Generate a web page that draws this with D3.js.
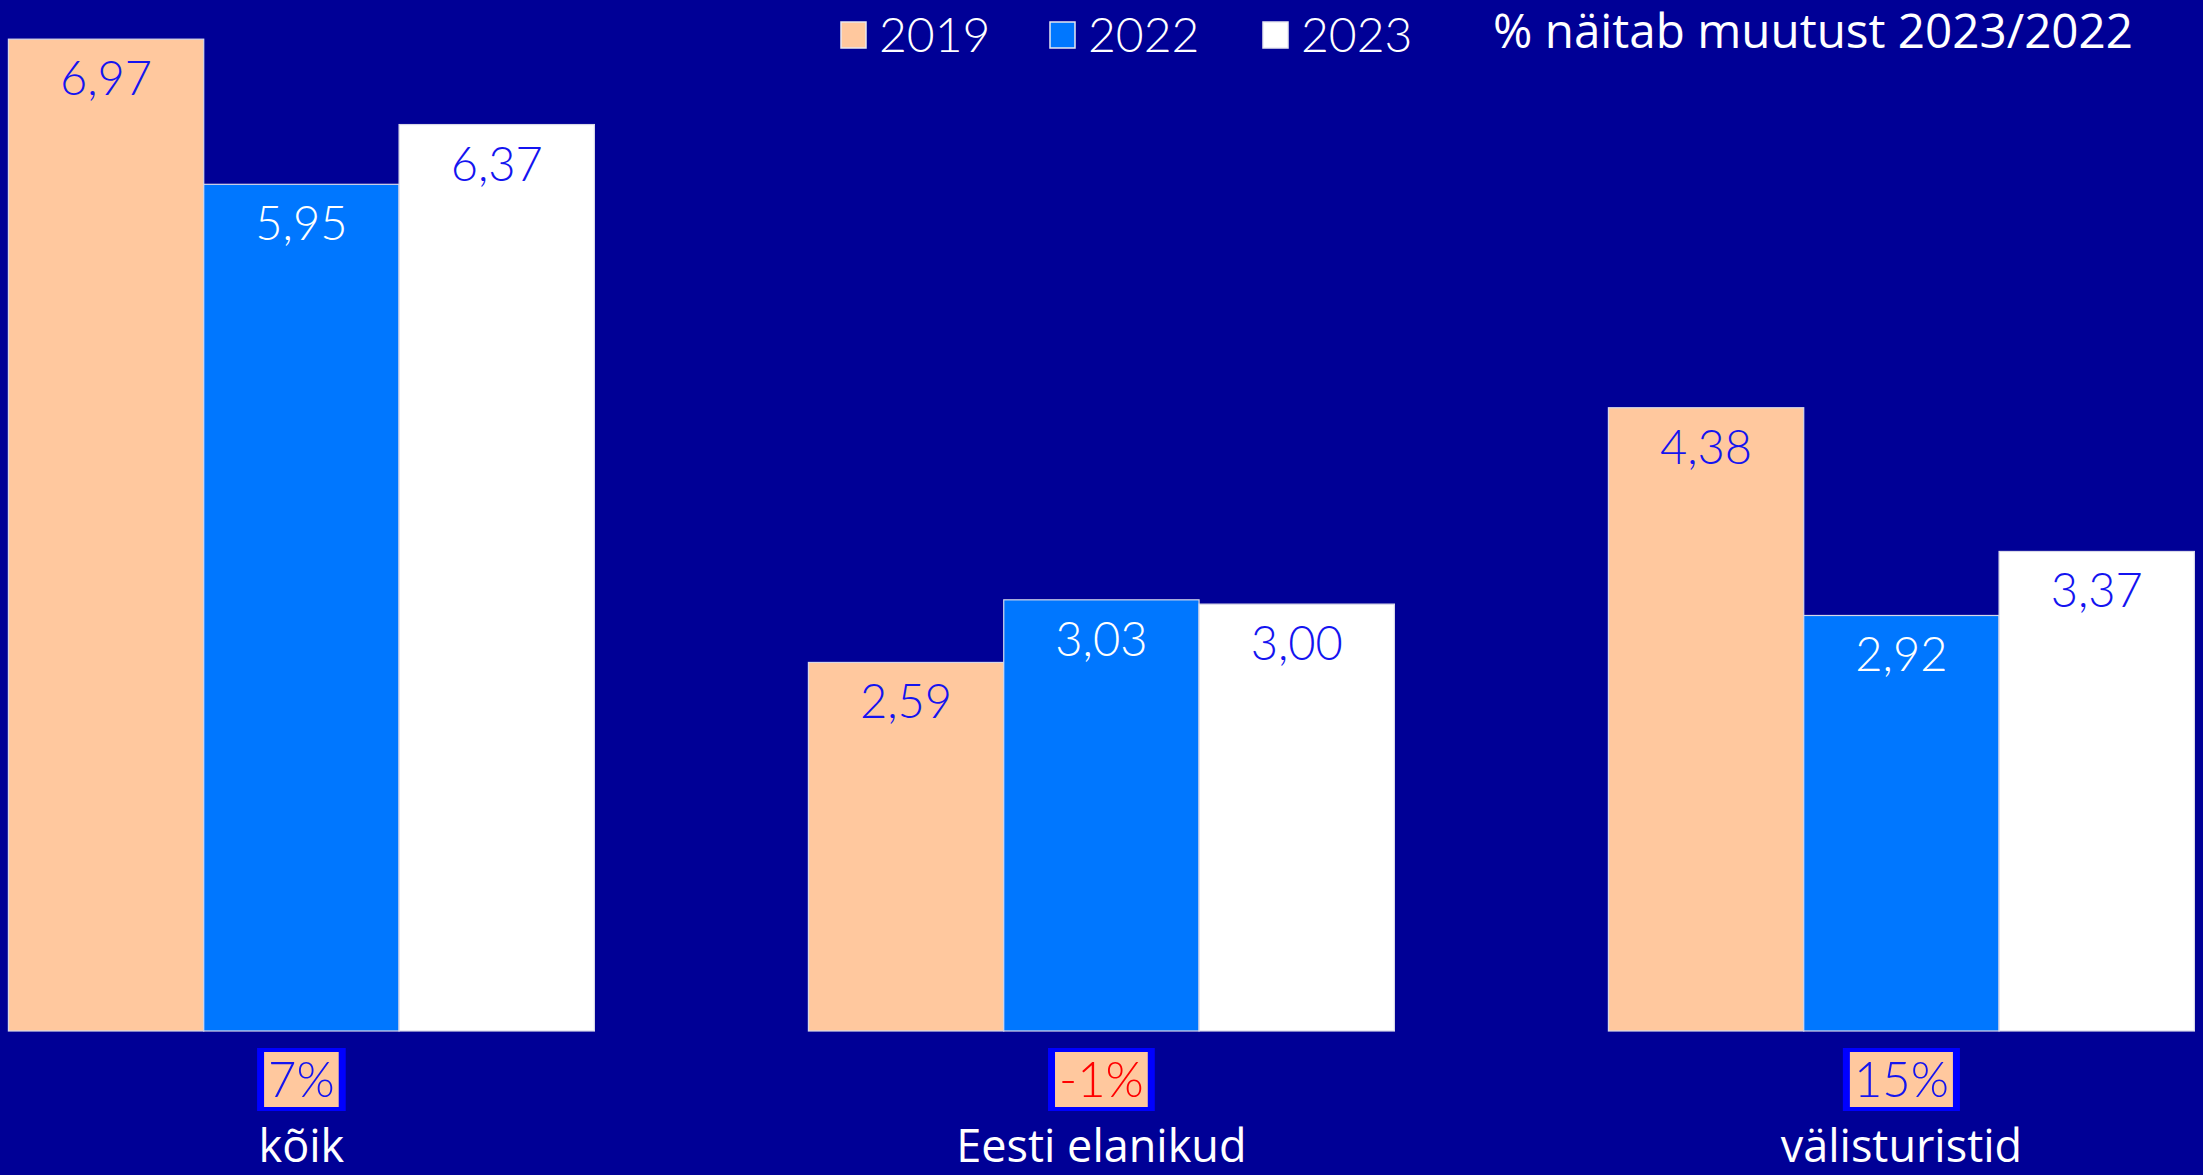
<!DOCTYPE html>
<html>
<head>
<meta charset="utf-8">
<script src="https://cdn.jsdelivr.net/npm/d3@7"></script>
<style>
  html, body { margin: 0; padding: 0; background: #000096; }
  svg { display: block; }
</style>
</head>
<body>
<svg id="chart" width="2203" height="1175"></svg>
<script>
// andmed
var categories = ["kõik", "Eesti elanikud", "välisturistid"];
var years = ["2019", "2022", "2023"];
var values2019 = [6.97, 2.59, 4.38];
var values2022 = [5.95, 3.03, 2.92];
var values2023 = [6.37, 3.00, 3.37];
var changeLabels = ["7%", "-1%", "15%"];
var noteText = "% näitab muutust 2023/2022";

var barColors = { "2019": "#ffc89e", "2022": "#0077ff", "2023": "#ffffff" };
var labelColors = { "2019": "#1414f0", "2022": "#ffffff", "2023": "#1414f0" };

var width = 2203, height = 1175;
var baseY = 1031;
var svg = d3.select("#chart");

svg.append("rect").attr("width", width).attr("height", height).attr("fill", "#000096");

var x0 = d3.scaleBand().domain(categories).range([8.4, 2194.4]).paddingInner(0.2675).paddingOuter(0);
var x1 = d3.scaleBand().domain(years).range([0, x0.bandwidth()]);
var y = d3.scaleLinear().domain([0, 7]).range([baseY, baseY - 7 * 142.3]);

var series = years.map(function (yr, i) {
    var vals = [values2019, values2022, values2023][i];
    return categories.map(function (c, j) { return { cat: c, year: yr, value: vals[j] }; });
});
var flat = [].concat.apply([], series);

var fmt = function (v) { return d3.format(".2f")(v).replace(".", ","); };

var bars = svg.append("g");
bars.selectAll("rect")
    .data(flat).enter()
    .append("rect")
    .attr("x", function (d) { return x0(d.cat) + x1(d.year); })
    .attr("y", function (d) { return y(d.value); })
    .attr("width", x1.bandwidth())
    .attr("height", function (d) { return baseY - y(d.value); })
    .attr("fill", function (d) { return barColors[d.year]; })
    .attr("stroke", "#d8d8e8")
    .attr("stroke-width", 1.2);

bars.selectAll("text")
    .data(flat).enter()
    .append("text")
    .attr("x", function (d) { return x0(d.cat) + x1(d.year) + x1.bandwidth() / 2; })
    .attr("y", function (d) { return y(d.value) + 56; })
    .attr("text-anchor", "middle")
    .attr("font-family", "Lato, sans-serif")
    .attr("font-weight", 300)
    .attr("font-size", 47)
    .attr("fill", function (d) { return labelColors[d.year]; })
    .text(function (d) { return fmt(d.value); });

// muutuse kastid
var changeG = svg.append("g");
categories.forEach(function (c, i) {
    var cx = x0(c) + x0.bandwidth() / 2;
    var g = changeG.append("g");
    var outer = g.append("rect").attr("fill", "#0000ff");
    var inner = g.append("rect").attr("fill", "#ffc89e");
    var t = g.append("text")
        .attr("x", cx)
        .attr("y", 1097)
        .attr("text-anchor", "middle")
        .attr("font-family", "Lato, sans-serif")
        .attr("font-weight", 300)
        .attr("font-size", 49)
        .attr("fill", changeLabels[i].charAt(0) == "-" ? "#ff0000" : "#1414f0")
        .text(changeLabels[i]);
    var bb = t.node().getBBox();
    var iw = bb.width + 8;
    inner.attr("x", cx - iw / 2).attr("y", 1052).attr("width", iw).attr("height", 55);
    outer.attr("x", cx - iw / 2 - 7).attr("y", 1048).attr("width", iw + 14).attr("height", 63);
});

// kategooriate nimed
svg.append("g").selectAll("text")
    .data(categories).enter()
    .append("text")
    .attr("x", function (d) { return x0(d) + x0.bandwidth() / 2; })
    .attr("y", 1162)
    .attr("text-anchor", "middle")
    .attr("font-family", "'Open Sans', sans-serif")
    .attr("font-size", 45)
    .attr("fill", "#ffffff")
    .text(function (d) { return d; });

// legend
var legendX = [841, 1050, 1263];
var legend = svg.append("g");
years.forEach(function (yr, i) {
    legend.append("rect")
        .attr("x", legendX[i]).attr("y", 22)
        .attr("width", 25).attr("height", 26)
        .attr("fill", barColors[yr])
        .attr("stroke", "#e8e8f0").attr("stroke-width", 1.5);
    legend.append("text")
        .attr("x", legendX[i] + 38).attr("y", 52)
        .attr("font-family", "Lato, sans-serif")
        .attr("font-weight", 300)
        .attr("font-size", 48)
        .attr("fill", "#ffffff")
        .text(yr);
});

legend.append("text")
    .attr("x", 1493).attr("y", 48)
    .attr("font-family", "'Open Sans', sans-serif")
    .attr("font-size", 47.6)
    .attr("fill", "#ffffff")
    .text(noteText);
</script>
</body>
</html>
